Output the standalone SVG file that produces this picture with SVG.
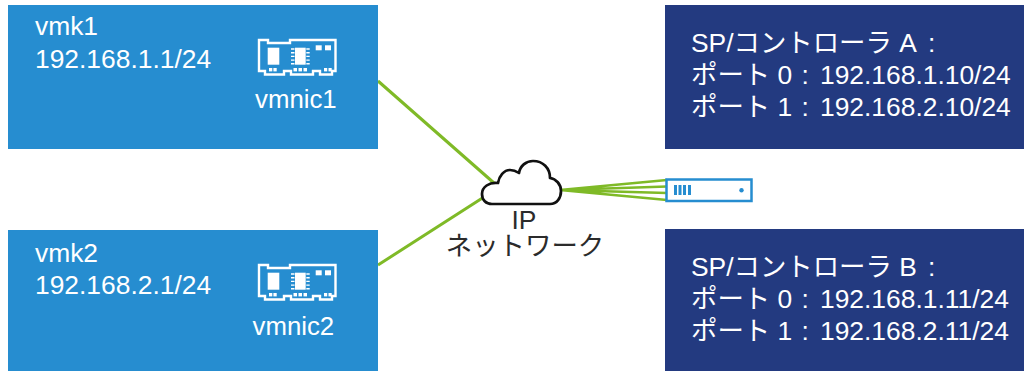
<svg xmlns="http://www.w3.org/2000/svg" width="1024" height="371" viewBox="0 0 1024 371">
<style>
text{font-family:"Liberation Sans","Noto Sans CJK JP",sans-serif;font-size:26.4px;fill:#fff}
.nicname{font-size:25.8px}
.dark{fill:#2b2b2b;text-anchor:middle}
.host{fill:#268dd0}
.sp{fill:#233a80}
.link{stroke:#7fba27;stroke-width:3;fill:none}
.fan{stroke:#7fba27;stroke-width:2.500;fill:none}
.nic{fill:none;stroke:#fff;stroke-width:2.400}
.pin{fill:none;stroke:#fff;stroke-width:1.400}
.w{fill:#fff}
</style>
<defs>
<g id="nicIcon">
<path class="nic" d="M1 1H10V4H32V1H77.500V32H74V35.500H62V32H55V35.500H33V32H26V35.500H7V32H1Z"/>
<rect class="w" x="9.700" y="8.700" width="11.600" height="17"/>
<rect class="w" x="37" y="8.700" width="10.700" height="17"/>
<path class="pin" d="M33 10H36.500M33 13.700H36.500M33 17.400H36.500M33 21.100H36.500M33 24.800H36.500M48.300 10H51.700M48.300 13.700H51.700M48.300 17.400H51.700M48.300 21.100H51.700M48.300 24.800H51.700"/>
<rect class="w" x="57.700" y="6.300" width="6" height="5"/>
<rect class="w" x="67" y="6.300" width="6" height="5"/>
<rect class="w" x="11" y="29" width="3.300" height="3.400"/>
<rect class="w" x="15.400" y="29" width="3.300" height="3.400"/>
<rect class="w" x="35.500" y="29" width="3.500" height="3.400"/>
<rect class="w" x="40.500" y="29" width="3.500" height="3.400"/>
<rect class="w" x="45.500" y="29" width="3.500" height="3.400"/>
<rect class="w" x="66" y="29" width="3.200" height="3.400"/>
<rect class="w" x="70.500" y="29" width="3.200" height="3.400"/>
</g>
</defs>
<g id="connectors">
<path class="link" d="M378 81L494 183M378 265L484 197"/>
<path class="fan" d="M560 190L667 180M560 190L667 186.500M560 190L667 193M560 190L667 200"/>
</g>
<g id="vmk1">
<rect class="host" x="8" y="5" width="370" height="144"/>
<text x="35" y="35">vmk1</text>
<text x="35" y="68">192.168.1.1/24</text>
<use href="#nicIcon" x="258" y="39"/>
<text class="nicname" x="255" y="108">vmnic1</text>
</g>
<g id="vmk2">
<rect class="host" x="8" y="230" width="370" height="141"/>
<text x="35" y="262">vmk2</text>
<text x="35" y="294">192.168.2.1/24</text>
<use href="#nicIcon" x="258" y="264"/>
<text class="nicname" x="252.500" y="335">vmnic2</text>
</g>
<g id="spA">
<rect class="sp" x="665" y="5" width="359" height="144"/>
<text x="691" y="52">SP/コントローラ A <tspan x="928">:</tspan></text>
<text x="691" y="84">ポート 0 <tspan x="801.500">: </tspan><tspan x="820">192.168.1.10/24</tspan></text>
<text x="691" y="116">ポート 1 <tspan x="801.500">: </tspan><tspan x="820">192.168.2.10/24</tspan></text>
</g>
<g id="spB">
<rect class="sp" x="665" y="229" width="359" height="142"/>
<text x="691" y="276">SP/コントローラ B <tspan x="928">:</tspan></text>
<text x="691" y="308">ポート 0 <tspan x="801.500">: </tspan><tspan x="820">192.168.1.11/24</tspan></text>
<text x="691" y="340">ポート 1 <tspan x="801.500">: </tspan><tspan x="820">192.168.2.11/24</tspan></text>
</g>
<g id="cloud">
<path d="M492 204H550C557 204 561 198 561 191C561 184 556 179 550 178C550 168 543 161 533 161C526 161 520 166 519 173C516 171 513 170 510 170C504 170 499 176 498 183C489 182 482 187 482 194C482 200 486 204 492 204Z" fill="#fff" stroke="#111" stroke-width="2.700" stroke-linejoin="round"/>
<text class="dark" x="524" y="229">IP</text>
<text class="dark" x="525" y="255">ネットワーク</text>
</g>
<g id="server">
<rect x="666.500" y="179.500" width="85" height="21.500" fill="#fff" stroke="#268dd0" stroke-width="2.500"/>
<path d="M674 185h3v10h-3zM678.500 185h3v10h-3zM683 185h3v10h-3zM688 185h3v10h-3z" fill="#268dd0"/>
<circle cx="741.500" cy="190.300" r="2.200" fill="#268dd0"/>
</g>
</svg>
